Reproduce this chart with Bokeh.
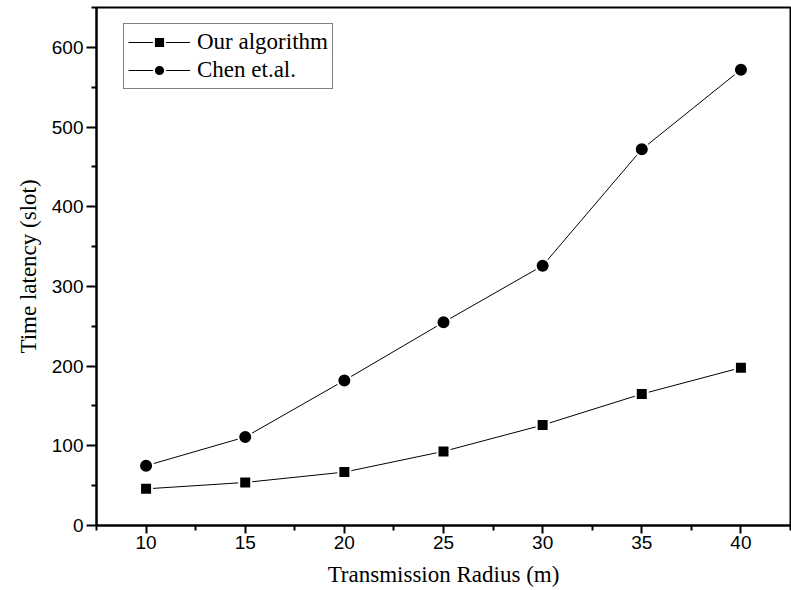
from bokeh.plotting import figure
from bokeh.models import FixedTicker, Range1d, Legend, LegendItem
from bokeh.embed import file_html
from bokeh.resources import INLINE

radius = [10, 15, 20, 25, 30, 35, 40]
ours = [46, 54, 67, 93, 126, 165, 198]
chen = [75, 111, 182, 255, 326, 472, 572]
x_ticks = [10, 15, 20, 25, 30, 35, 40]
x_minor = [7.5, 12.5, 17.5, 22.5, 27.5, 32.5, 37.5, 42.5]
y_ticks = [0, 100, 200, 300, 400, 500, 600]
y_minor = [50, 150, 250, 350, 450, 550, 650]

p = figure(width=791, height=590, output_backend="svg", toolbar_location=None,
           x_range=Range1d(7.5, 42.5), y_range=Range1d(0, 650),
           min_border_left=96, min_border_right=1, min_border_top=7, min_border_bottom=65)
p.grid.visible = False
p.outline_line_color = "black"
p.outline_line_width = 2
p.background_fill_color = "white"
p.border_fill_color = "white"

p.xaxis.ticker = FixedTicker(ticks=x_ticks, minor_ticks=x_minor)
p.yaxis.ticker = FixedTicker(ticks=y_ticks, minor_ticks=y_minor)
for ax in (p.xaxis[0], p.yaxis[0]):
    ax.axis_line_width = 2
    ax.axis_line_color = "black"
    ax.major_tick_line_width = 2
    ax.minor_tick_line_width = 2
    ax.major_tick_line_color = "black"
    ax.minor_tick_line_color = "black"
    ax.major_tick_in = 0
    ax.minor_tick_in = 0
    ax.major_label_text_font = "Liberation Sans"
    ax.major_label_text_font_size = "19px"
    ax.major_label_text_color = "black"
    ax.axis_label_text_font = "Liberation Serif"
    ax.axis_label_text_font_size = "23px"
    ax.axis_label_text_font_style = "normal"
    ax.axis_label_text_color = "black"
p.xaxis.major_tick_out = 8
p.xaxis.minor_tick_out = 5
p.yaxis.major_tick_out = 10
p.yaxis.minor_tick_out = 5
p.xaxis.major_label_standoff = 2
p.yaxis.major_label_standoff = 3
p.xaxis.axis_label = "Transmission Radius (m)"
p.yaxis.axis_label = "Time latency (slot)"
p.xaxis.axis_label_standoff = 10
p.yaxis.axis_label_standoff = 8

l1 = p.line(radius, ours, line_color="black", line_width=1)
s1 = p.scatter(radius, ours, marker="square", size=12, fill_color="black",
               line_color="white", line_width=2)
l2 = p.line(radius, chen, line_color="black", line_width=1)
s2 = p.scatter(radius, chen, marker="circle", size=14, fill_color="black",
               line_color="white", line_width=2)

legend = Legend(items=[LegendItem(label="Our algorithm", renderers=[l1, s1]),
                       LegendItem(label="Chen et.al.", renderers=[l2, s2])],
                location=(27, 436))
legend.label_text_font = "Liberation Serif"
legend.label_text_font_size = "23px"
legend.label_text_color = "black"
legend.glyph_width = 62
legend.glyph_height = 28
legend.label_height = 28
legend.label_standoff = 7
legend.spacing = 0
legend.padding = 4
legend.border_line_color = "black"
legend.border_line_width = 1
legend.background_fill_alpha = 1
legend.margin = 0
p.add_layout(legend)

open("out.html", "w").write(file_html(p, INLINE))
